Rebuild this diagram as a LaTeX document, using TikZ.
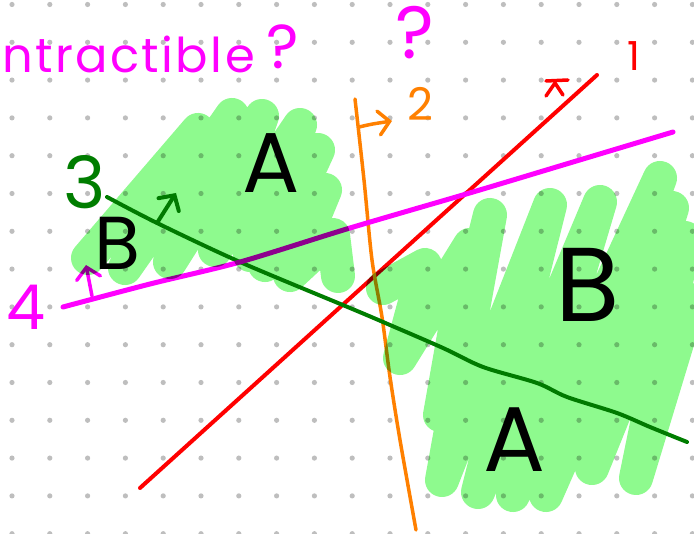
\documentclass[tikz,border=0pt]{standalone}
\usepackage{fontspec}
\newfontfamily\handfont{Poppins}
\usetikzlibrary{arrows.meta}
\definecolor{marker}{RGB}{142,250,142}
\definecolor{dotgray}{RGB}{190,190,190}
\definecolor{pinkpen}{RGB}{255,0,255}
\definecolor{greenpen}{RGB}{0,125,0}
\definecolor{orangepen}{RGB}{255,128,0}
\definecolor{redpen}{RGB}{255,0,0}

\begin{document}
\begin{tikzpicture}[
    x=1pt,y=-1pt,
    pen/.style={line width=#1,line cap=round,line join=round},
    pen/.default=4pt,
    tip/.style={-{Straight Barb[length=11pt,width=24pt,line cap=round]}},
    hl/.style={marker,line width=34pt,line cap=round,line join=round},
    lbl/.style={inner sep=0pt,font=\handfont\fontsize{#1}{#1}\selectfont},
]
\useasboundingbox (0,0) rectangle (694,534);

% dotted paper
\foreach \i in {0,...,18}
  \foreach \j in {0,...,14}
    \fill[dotgray] (12+37.8*\i,4.5+37.8*\j) circle (2.6pt);

% line 1
\draw[pen,redpen] (140,488) -- (597,75);
\draw[pen=3.5pt,redpen] (546,96) -- (555,83) -- (563,95);
\draw[pen=3.5pt,redpen] (546,81) -- (568,80);

% line 2
\draw[pen=3.5pt,orangepen] plot[smooth] coordinates
    {(355,99) (364,180) (372,260) (382,317) (390,377) (400,440) (416,530)};
\coordinate (two0) at (359,127);
\coordinate (two1) at (392,121);
\draw[pen=3.5pt,orangepen,tip] (two0) .. controls (372,124) .. (two1);

% line 3
\draw[pen,greenpen] plot[smooth] coordinates
    {(107,197) (157,223) (240,262) (350,308) (383,322) (443,348) (483,367)
     (537,383) (567,397) (617,413) (650,427) (687,442)};
\coordinate (three0) at (157,223);
\coordinate (three1) at (176,193);
\draw[pen,greenpen,tip] (three0) -- (three1);

% line 4
\draw[pen=5pt,pinkpen] plot[smooth] coordinates
    {(63,307) (150,284) (240,262) (350,228) (473,192) (573,162) (673,132)};
\coordinate (four0) at (92,296);
\coordinate (four1) at (86,265);
\draw[pen=3.5pt,pinkpen,tip] (four0) -- (four1);

% highlighter
\begin{scope}[blend mode=multiply]
\draw[hl] (88,258) -- (198,130) -- (125,268) -- (232,115) -- (170,262)
    -- (262,116) -- (215,250) -- (300,125) -- (250,255) -- (318,150)
    -- (265,265) -- (325,190) -- (290,275) -- (333,235) -- (338,276);
\draw[hl] (383,288) -- (425,265) -- (400,358) -- (470,245) -- (440,415)
    -- (490,215) -- (442,480) -- (550,205) -- (478,492) -- (600,202)
    -- (513,495) -- (660,178) -- (546,495) -- (672,208) -- (592,468)
    -- (685,238) -- (636,478) -- (690,300);
\end{scope}

% labels
\node[lbl=48,pinkpen,anchor=base west] (title) at (2,73)
    {\addfontfeatures{LetterSpace=5}ntractible};
\node[lbl=62,pinkpen] (q1) at (283,47) {?};
\node[lbl=74,pinkpen] (q2) at (415,33) {?};
\node[lbl=40,redpen] (n1) at (634,56) {1};
\node[lbl=45,orangepen] (n2) at (420,104) {2};
\node[lbl=72,greenpen] (n3) at (85,182) {3};
\node[lbl=62,pinkpen] (n4) at (26,307) {4};

\node[lbl=85] (aL) at (271,163) {A};
\node[lbl=75] (bL) at (117,243) {B};
\node[lbl=105] (bR) at (588,285) {B};
\node[lbl=92] (aR) at (514,440) {A};
\end{tikzpicture}
\end{document}
